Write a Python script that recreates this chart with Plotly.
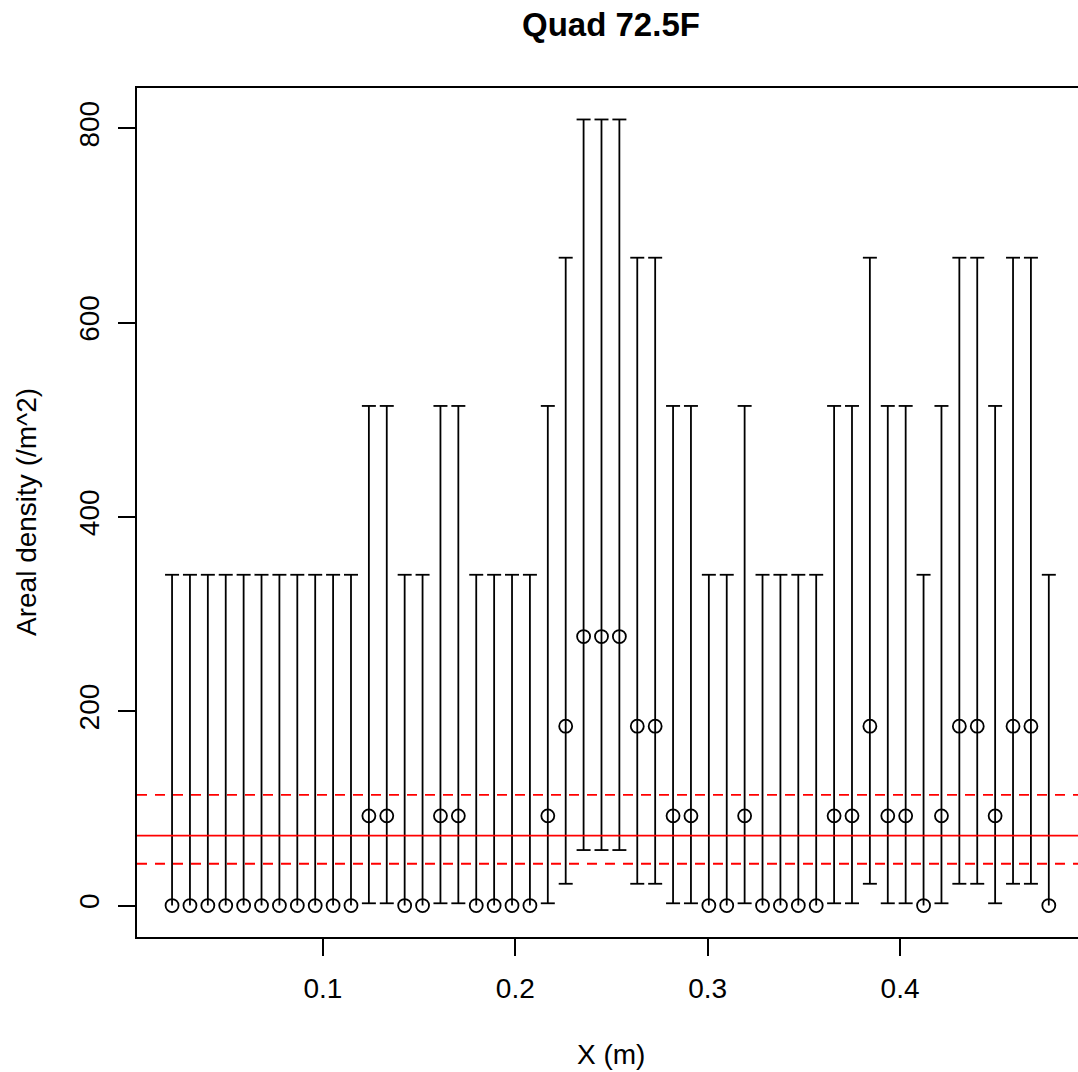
import plotly.graph_objects as go

# ---- data ----
x_m = [0.0216, 0.0309, 0.0402, 0.0495, 0.0588, 0.0681, 0.0774, 0.0867, 0.0960, 0.1053,
       0.1146, 0.1239, 0.1332, 0.1425, 0.1518, 0.1611, 0.1704, 0.1797, 0.1890, 0.1983,
       0.2076, 0.2169, 0.2262, 0.2355, 0.2448, 0.2541, 0.2634, 0.2727, 0.2820, 0.2913,
       0.3006, 0.3099, 0.3192, 0.3285, 0.3378, 0.3471, 0.3564, 0.3657, 0.3750, 0.3843,
       0.3936, 0.4029, 0.4122, 0.4215, 0.4308, 0.4401, 0.4494, 0.4587, 0.4680, 0.4773]

density = [0, 0, 0, 0, 0, 0, 0, 0, 0, 0,
           0, 92.3, 92.3, 0, 0, 92.3, 92.3, 0, 0, 0,
           0, 92.3, 184.6, 276.9, 276.9, 276.9, 184.6, 184.6, 92.3, 92.3,
           0, 0, 92.3, 0, 0, 0, 0, 92.3, 92.3, 184.6,
           92.3, 92.3, 0, 92.3, 184.6, 184.6, 92.3, 184.6, 184.6, 0]

upper = [340.5, 340.5, 340.5, 340.5, 340.5, 340.5, 340.5, 340.5, 340.5, 340.5,
         340.5, 514.3, 514.3, 340.5, 340.5, 514.3, 514.3, 340.5, 340.5, 340.5,
         340.5, 514.3, 666.9, 809.2, 809.2, 809.2, 666.9, 666.9, 514.3, 514.3,
         340.5, 340.5, 514.3, 340.5, 340.5, 340.5, 340.5, 514.3, 514.3, 666.9,
         514.3, 514.3, 340.5, 514.3, 666.9, 666.9, 514.3, 666.9, 666.9, 340.5]

lower = [0, 0, 0, 0, 0, 0, 0, 0, 0, 0,
         0, 2.3, 2.3, 0, 0, 2.3, 2.3, 0, 0, 0,
         0, 2.3, 22.4, 57.1, 57.1, 57.1, 22.4, 22.4, 2.3, 2.3,
         0, 0, 2.3, 0, 0, 0, 0, 2.3, 2.3, 22.4,
         2.3, 2.3, 0, 2.3, 22.4, 22.4, 2.3, 22.4, 22.4, 0]

mean_line = 72.0
ci_lines = [43.0, 114.0]

x_ticks = [0.1, 0.2, 0.3, 0.4]
y_ticks = [0, 200, 400, 600, 800]

title_text = "Quad 72.5F"
x_title = "X (m)"
y_title = "Areal density (/m^2)"

# ---- figure ----
FONT = "Liberation Sans, Arial, sans-serif"
LW = 1.8

seg_x, seg_y = [], []
for xi, lo, hi in zip(x_m, lower, upper):
    seg_x += [xi, xi, None]
    seg_y += [lo, hi, None]

cap_x = list(x_m) + [xi for xi, lo in zip(x_m, lower) if lo > 0]
cap_y = list(upper) + [lo for lo in lower if lo > 0]

fig = go.Figure()
fig.add_trace(go.Scatter(x=seg_x, y=seg_y, mode="lines",
                         line=dict(color="black", width=LW),
                         hoverinfo="skip", showlegend=False))
fig.add_trace(go.Scatter(x=cap_x, y=cap_y, mode="markers",
                         marker=dict(symbol="line-ew", size=10, color="black",
                                     line=dict(color="black", width=LW)),
                         hoverinfo="skip", showlegend=False))
fig.add_trace(go.Scatter(x=x_m, y=density, mode="markers",
                         marker=dict(symbol="circle-open", size=13, color="black",
                                     line=dict(color="black", width=LW)),
                         showlegend=False))

fig.add_hline(y=mean_line, line=dict(color="#FF0000", width=LW))
for v in ci_lines:
    fig.add_hline(y=v, line=dict(color="#FF0000", width=LW, dash="10px,8px"))

fig.update_layout(
    width=1078, height=1072,
    margin=dict(l=137, r=0, t=88, b=135, pad=0),
    paper_bgcolor="white", plot_bgcolor="white",
    font=dict(family=FONT, size=28, color="black"),
    showlegend=False,
)
fig.update_xaxes(range=[0.00338, 0.49247], tickvals=x_ticks,
                 ticktext=[f"{t:.1f}" for t in x_ticks],
                 showgrid=False, zeroline=False,
                 showline=True, mirror=True, linecolor="black", linewidth=LW,
                 ticks="outside", ticklen=17, tickwidth=LW, tickcolor="black",
                 ticklabelstandoff=8,
                 tickfont=dict(size=28))
fig.update_yaxes(range=[-32.4, 841.6], tickvals=y_ticks,
                 ticktext=[str(t) for t in y_ticks],
                 showgrid=False, zeroline=False,
                 showline=True, mirror=False, linecolor="black", linewidth=LW,
                 ticks="outside", ticklen=17, tickwidth=LW, tickcolor="black",
                 ticklabelstandoff=8,
                 tickangle=-90, tickfont=dict(size=28))

fig.add_annotation(text="<b>" + title_text + "</b>", xref="paper", yref="paper",
                   x=(611 - 137) / 941, y=1, yshift=88 - 24, xanchor="center", yanchor="middle",
                   showarrow=False, font=dict(size=33, family=FONT))
fig.add_annotation(text=x_title, xref="paper", yref="paper",
                   x=(611 - 137) / 941, y=0, yshift=-(1054 - 937), xanchor="center", yanchor="middle",
                   showarrow=False, font=dict(size=28, family=FONT))
fig.add_annotation(text=y_title, xref="paper", yref="paper",
                   x=0, xshift=-(137 - 26), y=(937 - 512) / 849, xanchor="center", yanchor="middle",
                   textangle=-90, showarrow=False, font=dict(size=28, family=FONT))

fig.write_html("out.html")
